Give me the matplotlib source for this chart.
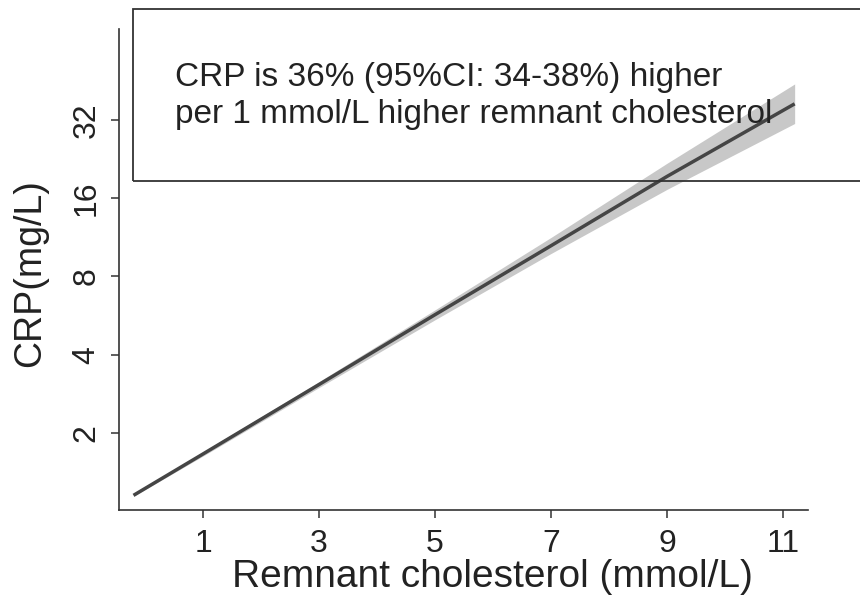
import matplotlib
matplotlib.use("Agg")
import matplotlib.pyplot as plt
from matplotlib.patches import Rectangle

# Data
remnant = [-0.2, 1, 3, 5, 7, 9, 11.2]
crp_fit = [1.15, 1.66, 3.07, 5.7, 10.5, 19.4, 36.9]
crp_upper = [1.16, 1.69, 3.15, 5.95, 11.3, 21.8, 44.0]
crp_lower = [1.14, 1.63, 2.99, 5.45, 9.8, 17.3, 31.0]
x_ticks = [1, 3, 5, 7, 9, 11]
y_ticks = [2, 4, 8, 16, 32]
annot_lines = ["CRP is 36% (95%CI: 34-38%) higher",
               "per 1 mmol/L higher remnant cholesterol"]

plt.rcParams['font.family'] = ['Liberation Sans', 'DejaVu Sans']

W, H = 860, 600
fig = plt.figure(figsize=(8.6, 6.0), dpi=100)
ax = fig.add_axes([119 / W, 1 - 510 / H, (808 - 119) / W, (510 - 29) / H])

ax.fill_between(remnant, crp_lower, crp_upper, color='#c8c8c8', linewidth=0, zorder=2)
ax.plot(remnant, crp_fit, color='#454545', linewidth=2.5, solid_capstyle='butt', zorder=3)

ax.set_yscale('log', base=2)
ax.set_xlim(-0.45, 11.43)
ax.set_ylim(1.01, 71.6)
ax.set_xticks(x_ticks)
ax.set_xticklabels([str(v) for v in x_ticks])
ax.set_yticks(y_ticks)
ax.set_yticklabels([str(v) for v in y_ticks], rotation=90, va='center')
ax.minorticks_off()

for s in ['top', 'right']:
    ax.spines[s].set_visible(False)
for s in ['left', 'bottom']:
    ax.spines[s].set_color('#333333')
    ax.spines[s].set_linewidth(1.2)

ax.tick_params(axis='both', direction='out', length=5.5, width=1.1, color='#333333',
               labelsize=23, labelcolor='#222222')
ax.tick_params(axis='x', pad=8)
ax.tick_params(axis='y', pad=7)

fig.text(492 / W, 1 - 587 / H, "Remnant cholesterol (mmol/L)", fontsize=28,
         ha='center', va='baseline', color='#222222')
fig.text(40 / W, 1 - 273 / H, "CRP(mg/L)", fontsize=27, rotation=90,
         rotation_mode='anchor', ha='center', va='baseline', color='#222222')

# Annotation box
rect = Rectangle((133 / W, 1 - 181 / H), 1.0, (181 - 9) / H, transform=fig.transFigure,
                 fill=False, edgecolor='#333333', linewidth=1.3, clip_on=False, zorder=5)
fig.patches.append(rect)
fig.text(175 / W, 1 - 86 / H, annot_lines[0], fontsize=24, ha='left', va='baseline',
         color='#222222')
fig.text(175 / W, 1 - 123 / H, annot_lines[1], fontsize=24, ha='left', va='baseline',
         color='#222222')

fig.savefig("out.png", dpi=100)
